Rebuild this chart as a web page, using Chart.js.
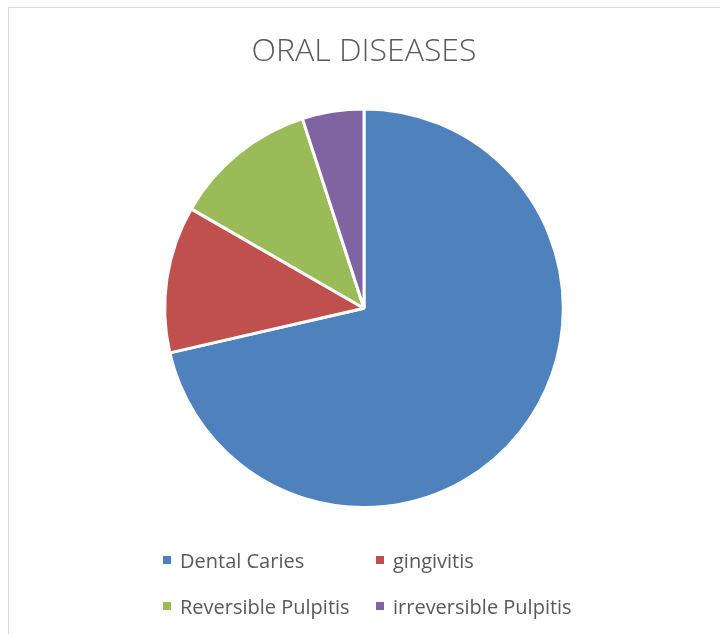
<!DOCTYPE html>
<html>
<head>
<meta charset="utf-8">
<script src="https://cdn.jsdelivr.net/npm/chart.js@4/dist/chart.umd.min.js"></script>
<style>
  html, body { margin: 0; padding: 0; background: #fff; overflow: hidden; }
  #wrap { position: relative; width: 720px; height: 634px; }
  #frame { position: absolute; left: 8px; top: 7px; width: 800px; height: 700px; border: 1px solid #d9d9d9; }
  #chart { position: absolute; left: 0; top: 0; }
  #legend {
    position: absolute; left: 163px; top: 547px;
    display: grid; grid-template-columns: 213px auto; row-gap: 20px;
    font-family: "Open Sans", sans-serif; font-size: 20px; color: #595959;
  }
  #legend div { display: flex; align-items: center; height: 26px; white-space: nowrap; }
  #legend span.box { width: 8px; height: 8px; margin-right: 9px; display: inline-block; }
</style>
</head>
<body>
<div id="wrap">
  <div id="frame"></div>
  <canvas id="chart" width="720" height="634"></canvas>
  <div id="legend"></div>
</div>
<script>
const labels = ['Dental Caries', 'gingivitis', 'Reversible Pulpitis', 'irreversible Pulpitis'];
const values = [71.4, 11.9, 11.7, 5.0];
const colors = ['#4F81BD', '#C0504D', '#9BBB59', '#8064A2'];

const legend = document.getElementById('legend');
labels.forEach((label, i) => {
    const item = document.createElement('div');
    const box = document.createElement('span');
    box.className = 'box';
    box.style.background = colors[i];
    item.appendChild(box);
    item.appendChild(document.createTextNode(label));
    legend.appendChild(item);
});

new Chart(document.getElementById('chart'), {
    type: 'pie',
    data: {
        labels,
        datasets: [{
            data: values,
            backgroundColor: colors,
            borderColor: '#ffffff',
            borderWidth: 3
        }]
    },
    options: {
        responsive: false,
        animation: false,
        layout: {
            padding: { left: 8, right: 0, top: 0, bottom: 125 }
        },
        plugins: {
            legend: { display: false },
            tooltip: { enabled: false },
            title: {
                display: true,
                text: 'ORAL DISEASES',
                color: '#595959',
                font: { family: '"Open Sans", sans-serif', size: 32, weight: '300' },
                padding: { top: 33, bottom: 36 }
            }
        }
    }
});
</script>
</body>
</html>
